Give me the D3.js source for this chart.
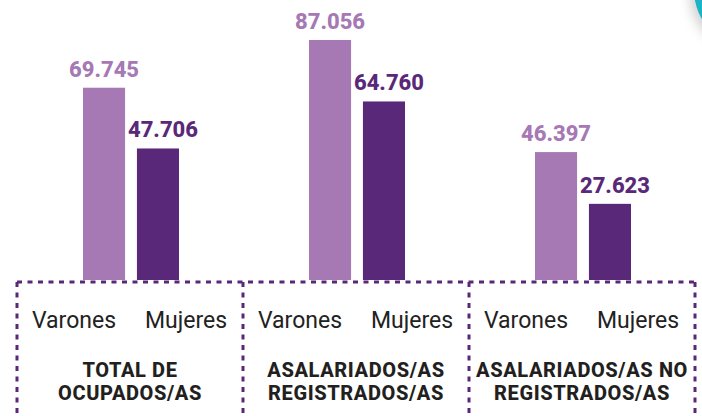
<!DOCTYPE html>
<html>
<head>
<meta charset="utf-8">
<script src="https://cdn.jsdelivr.net/npm/d3@7"></script>
<style>
  body { margin: 0; background: #fff; }
  svg { display: block; font-family: Roboto, "Open Sans", sans-serif; }
</style>
</head>
<body>
<div id="chart"></div>
<script>
// data
let categories = ["TOTAL DE OCUPADOS/AS", "ASALARIADOS/AS REGISTRADOS/AS", "ASALARIADOS/AS NO REGISTRADOS/AS"];
let categoryLines = [["TOTAL DE", "OCUPADOS/AS"], ["ASALARIADOS/AS", "REGISTRADOS/AS"], ["ASALARIADOS/AS NO", "REGISTRADOS/AS"]];
let subgroups = ["Varones", "Mujeres"];
let varones = [69.745, 87.056, 46.397];
let mujeres = [47.706, 64.760, 27.623];
let valueLabels = [["69.745", "47.706"], ["87.056", "64.760"], ["46.397", "27.623"]];

let colors = {Varones: "#a678b4", Mujeres: "#5a2878"};

let width = 702, height = 416;
let baseY = 280;

let svg = d3.select("#chart").append("svg")
    .attr("width", width)
    .attr("height", height);

// decorative teal circle top right
svg.append("defs").append("filter")
    .attr("id", "shadow")
    .attr("x", "-50%").attr("y", "-50%").attr("width", "200%").attr("height", "200%")
    .append("feDropShadow")
    .attr("dx", -4).attr("dy", 4).attr("stdDeviation", 6)
    .attr("flood-color", "#000").attr("flood-opacity", 0.18);

svg.append("circle")
    .attr("cx", 752).attr("cy", -10).attr("r", 58)
    .attr("fill", "#1cb3c6")
    .attr("filter", "url(#shadow)");

// scales
let x0 = d3.scaleBand()
    .domain(categories)
    .range([17, 695])
    .paddingInner(0)
    .paddingOuter(0);

let x1 = d3.scaleBand()
    .domain(subgroups)
    .range([0, 96])
    .paddingInner(0.22);

let xl = d3.scalePoint()
    .domain(subgroups)
    .range([x0.bandwidth() / 2 - 56, x0.bandwidth() / 2 + 56]);

let y = d3.scaleLinear()
    .domain([0, 100])
    .range([baseY, baseY - 275.7]);

let rows = categories.map((c, i) => ({
    cat: c,
    values: [
        {key: "Varones", value: varones[i], label: valueLabels[i][0]},
        {key: "Mujeres", value: mujeres[i], label: valueLabels[i][1]}
    ]
}));

let inset = (x0.bandwidth() - 96) / 2 + 1;

let groups = svg.selectAll(".group")
    .data(rows)
    .enter().append("g")
    .attr("class", "group")
    .attr("transform", d => `translate(${x0(d.cat)},0)`);

// bars
groups.selectAll("rect")
    .data(d => d.values)
    .enter().append("rect")
    .attr("x", d => inset + x1(d.key))
    .attr("y", d => y(d.value))
    .attr("width", x1.bandwidth())
    .attr("height", d => baseY - y(d.value))
    .attr("fill", d => colors[d.key]);

// value labels
groups.selectAll(".value")
    .data(d => d.values)
    .enter().append("text")
    .attr("class", "value")
    .attr("x", d => inset + x1(d.key) + x1.bandwidth() / 2 + (d.key === "Mujeres" ? 5 : 0))
    .attr("y", d => y(d.value) - 11)
    .attr("text-anchor", "middle")
    .attr("font-size", 22)
    .attr("font-weight", 800)
    .attr("fill", d => colors[d.key])
    .text(d => d.label);

// subgroup labels
groups.selectAll(".sub")
    .data(subgroups)
    .enter().append("text")
    .attr("class", "sub")
    .attr("x", d => xl(d))
    .attr("y", 328)
    .attr("text-anchor", "middle")
    .attr("font-size", 23)
    .attr("fill", "#222")
    .text(d => d);

// category labels
groups.each(function (d, i) {
    d3.select(this).selectAll(".cat")
        .data(categoryLines[i])
        .enter().append("text")
        .attr("class", "cat")
        .attr("x", x0.bandwidth() / 2)
        .attr("y", (t, j) => 377 + j * 23)
        .attr("text-anchor", "middle")
        .attr("font-size", 20)
        .attr("font-weight", 800)
        .attr("letter-spacing", 0.6)
        .attr("fill", "#231f20")
        .text(t => t);
});

// dashed frame
let frame = svg.append("g")
    .attr("fill", "none")
    .attr("stroke", "#5a2878")
    .attr("stroke-width", 3)
    .attr("stroke-dasharray", "5,5.5");

frame.append("line")
    .attr("x1", x0.range()[0]).attr("x2", x0.range()[1])
    .attr("y1", baseY + 2).attr("y2", baseY + 2);

let edges = categories.map(c => x0(c)).concat([x0.range()[1]]);
frame.selectAll(".edge")
    .data(edges)
    .enter().append("line")
    .attr("class", "edge")
    .attr("x1", d => d).attr("x2", d => d)
    .attr("y1", baseY + 2).attr("y2", height + 10);
</script>
</body>
</html>
